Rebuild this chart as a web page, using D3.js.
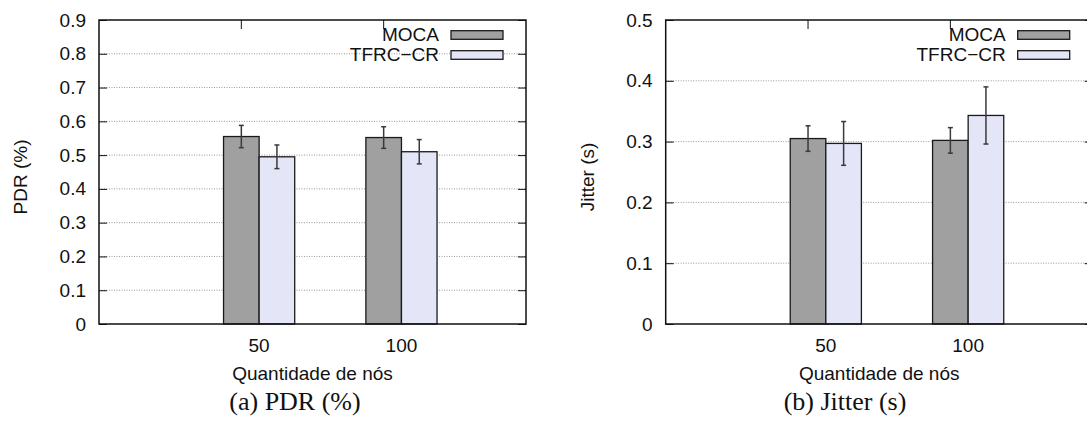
<!DOCTYPE html>
<html>
<head>
<meta charset="utf-8">
<script src="https://cdn.jsdelivr.net/npm/d3@7"></script>
<style>
  body { margin: 0; background: #fff; }
  svg text { font-family: "Liberation Sans", Arial, sans-serif; fill: #111; }
  .caption { font-family: "Liberation Serif", "Times New Roman", serif !important; }
</style>
</head>
<body>
<svg id="chart" width="1087" height="430"></svg>
<script>
// data
const categories = ["50", "100"];
const seriesNames = ["MOCA", "TFRC\u2212CR"];
const seriesColors = ["#a0a0a0", "#e4e5f7"];

const pdrMoca = [0.555, 0.552];
const pdrMocaErr = [0.033, 0.032];
const pdrTfrc = [0.495, 0.510];
const pdrTfrcErr = [0.035, 0.036];
const pdrTicks = [0, 0.1, 0.2, 0.3, 0.4, 0.5, 0.6, 0.7, 0.8, 0.9];

const jitterMoca = [0.305, 0.302];
const jitterMocaErr = [0.021, 0.021];
const jitterTfrc = [0.297, 0.343];
const jitterTfrcErr = [0.036, 0.047];
const jitterTicks = [0, 0.1, 0.2, 0.3, 0.4, 0.5];

const svg = d3.select("#chart");
const fontSize = 19;

const Panel = {
    width: 427,
    height: 304,
    barWidth: 0.25,
    draw: function(opts) {
        const g = svg.append("g")
            .attr("transform", `translate(${opts.left}, 20)`);

        const x = d3.scaleLinear().domain([0, 3]).range([0, this.width]);
        const y = d3.scaleLinear().domain([0, opts.yMax]).range([this.height, 0]);
        const pos = categories.map((c, i) => i + 1);

        // dotted grid
        g.append("g").selectAll("line")
            .data(opts.ticks.slice(1, -1))
            .enter().append("line")
            .attr("x1", 0).attr("x2", this.width)
            .attr("y1", d => y(d)).attr("y2", d => y(d))
            .attr("stroke", "#999")
            .attr("stroke-width", 1)
            .attr("stroke-dasharray", "1,1.5");

        // y axis, ticks pointing inward, mirrored on the right
        const yAxis = g.append("g")
            .call(d3.axisLeft(y).tickValues(opts.ticks)
                .tickFormat(d => d === 0 ? "0" : d3.format(".1f")(d))
                .tickSizeInner(-8).tickSizeOuter(0).tickPadding(13));
        yAxis.select(".domain").remove();
        yAxis.selectAll("line").attr("stroke", "#111");
        yAxis.selectAll("text").attr("font-size", fontSize).attr("fill", "#111");

        g.append("g")
            .attr("transform", `translate(${this.width}, 0)`)
            .call(d3.axisRight(y).tickValues(opts.ticks).tickSizeInner(-8).tickSizeOuter(0).tickFormat(""))
            .call(a => a.select(".domain").remove())
            .selectAll("line").attr("stroke", "#111");

        // top mirror ticks
        g.append("g").selectAll("line")
            .data(pos)
            .enter().append("line")
            .attr("x1", d => x(d)).attr("x2", d => x(d))
            .attr("y1", 0).attr("y2", 9)
            .attr("stroke", "#111");

        // bars
        const series = [
            { vals: opts.a, errs: opts.aErr, off: 0 },
            { vals: opts.b, errs: opts.bErr, off: this.barWidth }
        ];
        series.forEach((s, k) => {
            const bw = this.barWidth;
            g.append("g").selectAll("rect")
                .data(s.vals)
                .enter().append("rect")
                .attr("x", (d, i) => x(pos[i] - bw / 2 + s.off))
                .attr("y", d => y(d))
                .attr("width", x(bw) - x(0))
                .attr("height", d => this.height - y(d))
                .attr("fill", seriesColors[k])
                .attr("stroke", "#1a1a1a")
                .attr("stroke-width", 1.3);

            const eb = g.append("g").attr("stroke", "#3a3a3a").attr("stroke-width", 1.5);
            s.vals.forEach((v, i) => {
                const cx = x(pos[i] + s.off);
                const lo = y(v - s.errs[i]);
                const hi = y(v + s.errs[i]);
                eb.append("line").attr("x1", cx).attr("x2", cx).attr("y1", lo).attr("y2", hi);
                eb.append("line").attr("x1", cx - 2.5).attr("x2", cx + 2.5).attr("y1", lo).attr("y2", lo);
                eb.append("line").attr("x1", cx - 2.5).attr("x2", cx + 2.5).attr("y1", hi).attr("y2", hi);
            });
        });

        // frame
        g.append("rect")
            .attr("width", this.width)
            .attr("height", this.height)
            .attr("fill", "none")
            .attr("stroke", "#111")
            .attr("stroke-width", 1.5);

        // x tick labels
        g.append("g").selectAll("text")
            .data(categories)
            .enter().append("text")
            .attr("x", (d, i) => x(pos[i] + this.barWidth / 2))
            .attr("y", this.height + 28)
            .attr("text-anchor", "middle")
            .attr("font-size", fontSize)
            .text(d => d);

        g.append("text")
            .attr("x", this.width / 2)
            .attr("y", this.height + 56)
            .attr("text-anchor", "middle")
            .attr("font-size", fontSize)
            .text("Quantidade de nós");

        g.append("text")
            .attr("transform", `translate(-72, ${this.height / 2 + 5}) rotate(-90)`)
            .attr("text-anchor", "middle")
            .attr("font-size", fontSize)
            .text(opts.ylabel);

        // legend
        const leg = g.append("g").attr("transform", `translate(${this.width}, 0)`);
        seriesNames.forEach((name, k) => {
            const cy = 15 + k * 20;
            leg.append("text")
                .attr("x", -87)
                .attr("y", cy + 6)
                .attr("text-anchor", "end")
                .attr("font-size", fontSize)
                .text(name);
            leg.append("rect")
                .attr("x", -75)
                .attr("y", cy - 4.3)
                .attr("width", 52)
                .attr("height", 8.6)
                .attr("fill", seriesColors[k])
                .attr("stroke", "#1a1a1a")
                .attr("stroke-width", 1.3);
        });

        svg.append("text")
            .attr("class", "caption")
            .attr("x", opts.capX)
            .attr("y", 410)
            .attr("text-anchor", "middle")
            .attr("font-size", 26)
            .text(opts.caption);
    }
};

Panel.draw({
    left: 99, yMax: 0.9, ticks: pdrTicks, ylabel: "PDR (%)",
    a: pdrMoca, aErr: pdrMocaErr, b: pdrTfrc, bErr: pdrTfrcErr,
    caption: "(a)  PDR (%)", capX: 295
});
Panel.draw({
    left: 665.7, yMax: 0.5, ticks: jitterTicks, ylabel: "Jitter (s)",
    a: jitterMoca, aErr: jitterMocaErr, b: jitterTfrc, bErr: jitterTfrcErr,
    caption: "(b)  Jitter (s)", capX: 845
});
</script>
</body>
</html>
